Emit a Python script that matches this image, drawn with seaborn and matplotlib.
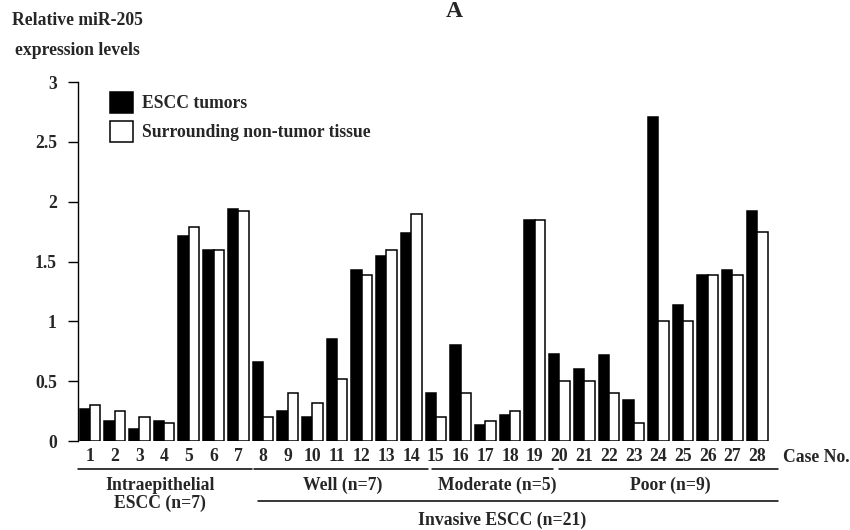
import matplotlib
matplotlib.use("Agg")
import matplotlib.pyplot as plt
import seaborn as sns
import pandas as pd
from matplotlib.lines import Line2D

cases = [str(i) for i in range(1, 29)]
tumor = [0.27, 0.17, 0.10, 0.17, 1.71, 1.60, 1.94,
         0.66, 0.25, 0.20, 0.85, 1.43, 1.55, 1.74,
         0.40, 0.80, 0.13, 0.22, 1.85,
         0.73, 0.60, 0.72, 0.34, 2.71, 1.14, 1.39, 1.43, 1.92]
normal = [0.30, 0.25, 0.20, 0.15, 1.79, 1.60, 1.92,
          0.20, 0.40, 0.32, 0.52, 1.39, 1.60, 1.90,
          0.20, 0.40, 0.17, 0.25, 1.85,
          0.50, 0.50, 0.40, 0.15, 1.00, 1.00, 1.39, 1.39, 1.75]
series_names = ["ESCC tumors", "Surrounding non-tumor tissue"]
yticks = [0, 0.5, 1, 1.5, 2, 2.5, 3]
ytick_labels = ["0", "0.5", "1", "1.5", "2", "2.5", "3"]
groups = ["Well (n=7)", "Moderate (n=5)", "Poor (n=9)"]

df = pd.DataFrame({
    "case": cases * 2,
    "value": tumor + normal,
    "tissue": [series_names[0]] * len(cases) + [series_names[1]] * len(cases),
})

sns.set_style("white")
plt.rcParams["font.family"] = ["Liberation Serif", "DejaVu Serif"]
plt.rcParams["font.weight"] = "bold"

W, H = 850, 530
fig = plt.figure(figsize=(W / 100, H / 100), dpi=100)

def fx(x):
    return x / W

def fy(y):
    return 1 - y / H

FS = 12.7

ax = fig.add_axes([fx(77.6), fy(441), fx(769.5) - fx(77.6), (441 - 82) / H])

sns.barplot(data=df, x="case", y="value", hue="tissue", order=cases,
            hue_order=series_names,
            palette={series_names[0]: "black", series_names[1]: "white"},
            saturation=1, edgecolor="black", linewidth=1.1, width=0.84,
            ax=ax, legend=True)

ax.set_ylim(0, 3)
ax.set_xlim(-0.5, 27.5)
ax.set_yticks(yticks)
ax.set_yticklabels(ytick_labels, fontsize=FS, fontweight="bold")
ax.tick_params(axis="y", direction="out", length=7.5, width=1, pad=7.5, left=True, color="black")
ax.tick_params(axis="x", length=0, pad=5, labelsize=FS)
for lab in ax.get_xticklabels():
    lab.set_fontweight("bold")
ax.set_xlabel("")
ax.set_ylabel("")
for s in ["top", "right", "bottom"]:
    ax.spines[s].set_visible(False)
ax.spines["left"].set_color("black")
ax.spines["left"].set_linewidth(1)

handles, labels = ax.get_legend_handles_labels()
leg = ax.legend(handles, labels, loc="upper left",
                bbox_to_anchor=(fx(110), fy(92)), bbox_transform=fig.transFigure,
                frameon=False, prop={"size": FS, "weight": "bold"},
                handlelength=1.3, handleheight=1.45, handletextpad=0.5,
                labelspacing=0.45, borderaxespad=0, borderpad=0)

# Title and y-axis caption
fig.text(fx(454), fy(17), "A", ha="center", va="baseline", fontsize=17, fontweight="bold")
fig.text(fx(12), fy(25), "Relative miR-205", ha="left", va="baseline", fontsize=FS, fontweight="bold")
fig.text(fx(15), fy(55), "expression levels", ha="left", va="baseline", fontsize=FS, fontweight="bold")

fig.text(fx(783), fy(461.5), "Case No.", ha="left", va="baseline", fontsize=FS, fontweight="bold")

# Group lines and labels
lw = 1.1
for x0, x1, y in [(78, 252, 469), (254, 428, 469), (432, 553, 469), (559, 778, 469), (258, 778, 501)]:
    fig.add_artist(Line2D([fx(x0), fx(x1)], [fy(y), fy(y)], color="black", lw=lw,
                          transform=fig.transFigure))

fig.text(fx(160), fy(490), "Intraepithelial", ha="center", va="baseline", fontsize=FS, fontweight="bold")
fig.text(fx(160), fy(508), "ESCC (n=7)", ha="center", va="baseline", fontsize=FS, fontweight="bold")
for txt, x in zip(groups, [343, 497, 670]):
    fig.text(fx(x), fy(490), txt, ha="center", va="baseline", fontsize=FS, fontweight="bold")
fig.text(fx(502), fy(525), "Invasive ESCC (n=21)", ha="center", va="baseline", fontsize=FS, fontweight="bold")

fig.savefig("out.png", dpi=100)
